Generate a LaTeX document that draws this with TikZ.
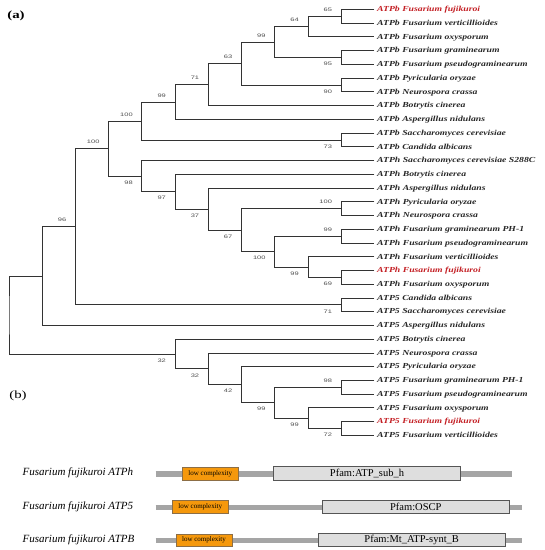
\documentclass[tikz,border=0pt]{standalone}
\usepackage{fontspec}
\setmainfont{Liberation Serif}
\newfontfamily\treefont[FakeStretch=1.26]{Liberation Serif}
\newfontfamily\tagfont[FakeStretch=1.35]{Liberation Serif}
\newfontfamily\bsfont[FakeStretch=1.5]{Liberation Sans}
\usepackage{xcolor}
\usepackage{tikz}
\usetikzlibrary{calc}

\definecolor{fujired}{RGB}{195,30,35}
\definecolor{bargray}{RGB}{165,165,165}
\definecolor{lowfill}{RGB}{245,152,12}
\definecolor{lowedge}{RGB}{140,110,70}
\definecolor{pfamfill}{RGB}{222,222,222}
\definecolor{pfamedge}{RGB}{85,85,85}

\tikzset{
  branch/.style={line width=0.8pt, black!80},
  leaftext/.style={anchor=mid west, inner sep=0pt, font=\treefont\fontsize{7.7}{9}\selectfont\bfseries\itshape},
  leafblack/.style={leaftext, text=black!85},
  leafred/.style={leaftext, text=fujired},
  bs/.style={anchor=east, inner sep=0pt, text=black!70, font=\bsfont\fontsize{5}{6}\selectfont},
  bar/.style={line width=5.5pt, bargray},
  lowbox/.style={draw=lowedge, line width=0.5pt, fill=lowfill, inner sep=0pt, minimum width=56pt, minimum height=12.7pt, font=\fontsize{7}{8}\selectfont},
  pfambox/.style={draw=pfamedge, line width=0.7pt, fill=pfamfill, inner sep=0pt, minimum height=13.3pt, font=\fontsize{10.5}{12}\selectfont},
  protname/.style={anchor=base west, inner sep=0pt, font=\fontsize{11}{13}\selectfont\itshape},
  paneltag/.style={inner sep=0pt, font=\tagfont\fontsize{11}{13}\selectfont}
}

% 分支: 名称, 层级, 上子, 下子, 支持率, 上/下
\newcommand\clade[6]{%
  \path let \p1=(#3), \p2=(#4) in coordinate (#1) at ({9pt+#2*33.22pt}, {0.5*(\y1+\y2)});
  \draw[branch] (#3) -| (#1) |- (#4);
  \ifx&#5&\else\node[bs, yshift=#6] at ([xshift=-9pt]#1) {#5};\fi
}

\begin{document}
\begin{tikzpicture}[x=1pt, y=-1pt]
  \useasboundingbox (0,0) rectangle (545,550);
  % 标号
  \node[paneltag, font=\tagfont\fontsize{11}{13}\selectfont\bfseries] (pa) at (16,15.5) {(a)};
  \node[paneltag] (pb) at (18,395.5) {(b)};
  % 叶节点
  \foreach \txt/\sty [count=\i] in {
    ATPb Fusarium fujikuroi/leafred,
    ATPb Fusarium verticillioides/leafblack,
    ATPb Fusarium oxysporum/leafblack,
    ATPb Fusarium graminearum/leafblack,
    ATPb Fusarium pseudograminearum/leafblack,
    ATPb Pyricularia oryzae/leafblack,
    ATPb Neurospora crassa/leafblack,
    ATPb Botrytis cinerea/leafblack,
    ATPb Aspergillus nidulans/leafblack,
    ATPb Saccharomyces cerevisiae/leafblack,
    ATPb Candida albicans/leafblack,
    ATPh Saccharomyces cerevisiae S288C/leafblack,
    ATPh Botrytis cinerea/leafblack,
    ATPh Aspergillus nidulans/leafblack,
    ATPh Pyricularia oryzae/leafblack,
    ATPh Neurospora crassa/leafblack,
    ATPh Fusarium graminearum PH-1/leafblack,
    ATPh Fusarium pseudograminearum/leafblack,
    ATPh Fusarium verticillioides/leafblack,
    ATPh Fusarium fujikuroi/leafred,
    ATPh Fusarium oxysporum/leafblack,
    ATP5 Candida albicans/leafblack,
    ATP5 Saccharomyces cerevisiae/leafblack,
    ATP5 Aspergillus nidulans/leafblack,
    ATP5 Botrytis cinerea/leafblack,
    ATP5 Neurospora crassa/leafblack,
    ATP5 Pyricularia oryzae/leafblack,
    ATP5 Fusarium graminearum PH-1/leafblack,
    ATP5 Fusarium pseudograminearum/leafblack,
    ATP5 Fusarium oxysporum/leafblack,
    ATP5 Fusarium fujikuroi/leafred,
    ATP5 Fusarium verticillioides/leafblack}{
    \coordinate (t\i) at (374.4, {9.4+13.74*(\i-1)});
    \node[\sty] (l\i) at (377, {9.4+13.74*(\i-1)}) {\txt};
  }
  % ATPb
  \clade{c1}{10}{t1}{t2}{65}{6.5pt}
  \clade{c2}{9}{c1}{t3}{64}{6.5pt}
  \clade{c3}{10}{t4}{t5}{95}{-6.5pt}
  \clade{c4}{8}{c2}{c3}{99}{6.5pt}
  \clade{c5}{10}{t6}{t7}{90}{-6.5pt}
  \clade{c6}{7}{c4}{c5}{63}{6.5pt}
  \clade{c7}{6}{c6}{t8}{71}{6.5pt}
  \clade{c8}{5}{c7}{t9}{99}{6.5pt}
  \clade{c9}{10}{t10}{t11}{73}{-6.5pt}
  \clade{c10}{4}{c8}{c9}{100}{6.5pt}
  % ATPh
  \clade{h1}{10}{t15}{t16}{100}{6.5pt}
  \clade{h2}{10}{t17}{t18}{99}{6.5pt}
  \clade{h3}{10}{t20}{t21}{69}{-6.5pt}
  \clade{h4}{9}{t19}{h3}{99}{-6.5pt}
  \clade{h5}{8}{h2}{h4}{100}{-6.5pt}
  \clade{h6}{7}{h1}{h5}{67}{-6.5pt}
  \clade{h7}{6}{t14}{h6}{37}{-6.5pt}
  \clade{h8}{5}{t13}{h7}{97}{-6.5pt}
  \clade{h9}{4}{t12}{h8}{98}{-6.5pt}
  % 上半部分
  \clade{a1}{3}{c10}{h9}{100}{6.5pt}
  \clade{a2}{10}{t22}{t23}{71}{-6.5pt}
  \clade{a3}{2}{a1}{a2}{96}{6.5pt}
  \clade{a4}{1}{a3}{t24}{}{0pt}
  % ATP5
  \clade{f1}{10}{t28}{t29}{98}{6.5pt}
  \clade{f2}{10}{t31}{t32}{72}{-6.5pt}
  \clade{f3}{9}{t30}{f2}{99}{-6.5pt}
  \clade{f4}{8}{f1}{f3}{99}{-6.5pt}
  \clade{f5}{7}{t27}{f4}{42}{-6.5pt}
  \clade{f6}{6}{t26}{f5}{32}{-6.5pt}
  \clade{f7}{5}{t25}{f6}{32}{-6.5pt}
  % 根
  \clade{root}{0}{a4}{f7}{}{0pt}
  % 结构域示意
  \node[protname] (p1) at (22.5,475.5) {Fusarium fujikuroi ATPh};
  \node[protname] (p2) at (22.5,509) {Fusarium fujikuroi ATP5};
  \node[protname] (p3) at (22.5,542.5) {Fusarium fujikuroi ATPB};
  \coordinate (s1) at (155.7,474);   \coordinate (e1) at (511.7,474);
  \coordinate (s2) at (155.7,507.3); \coordinate (e2) at (522.3,507.3);
  \coordinate (s3) at (155.7,540.7); \coordinate (e3) at (522.3,540.7);
  \draw[bar] (s1) -- (e1);
  \draw[bar] (s2) -- (e2);
  \draw[bar] (s3) -- (e3);
  \node[lowbox] (lc1) at (210.3,473.7) {low complexity};
  \node[lowbox] (lc2) at (200.3,507) {low complexity};
  \node[lowbox] (lc3) at (204,540.3) {low complexity};
  \node[pfambox, minimum width=187.4pt] (pf1) at (367,473.3) {Pfam:ATP\_sub\_h};
  \node[pfambox, minimum width=187pt] (pf2) at (415.8,506.7) {Pfam:OSCP};
  \node[pfambox, minimum width=186.7pt] (pf3) at (411.7,540) {Pfam:Mt\_ATP-synt\_B};
\end{tikzpicture}
\end{document}
